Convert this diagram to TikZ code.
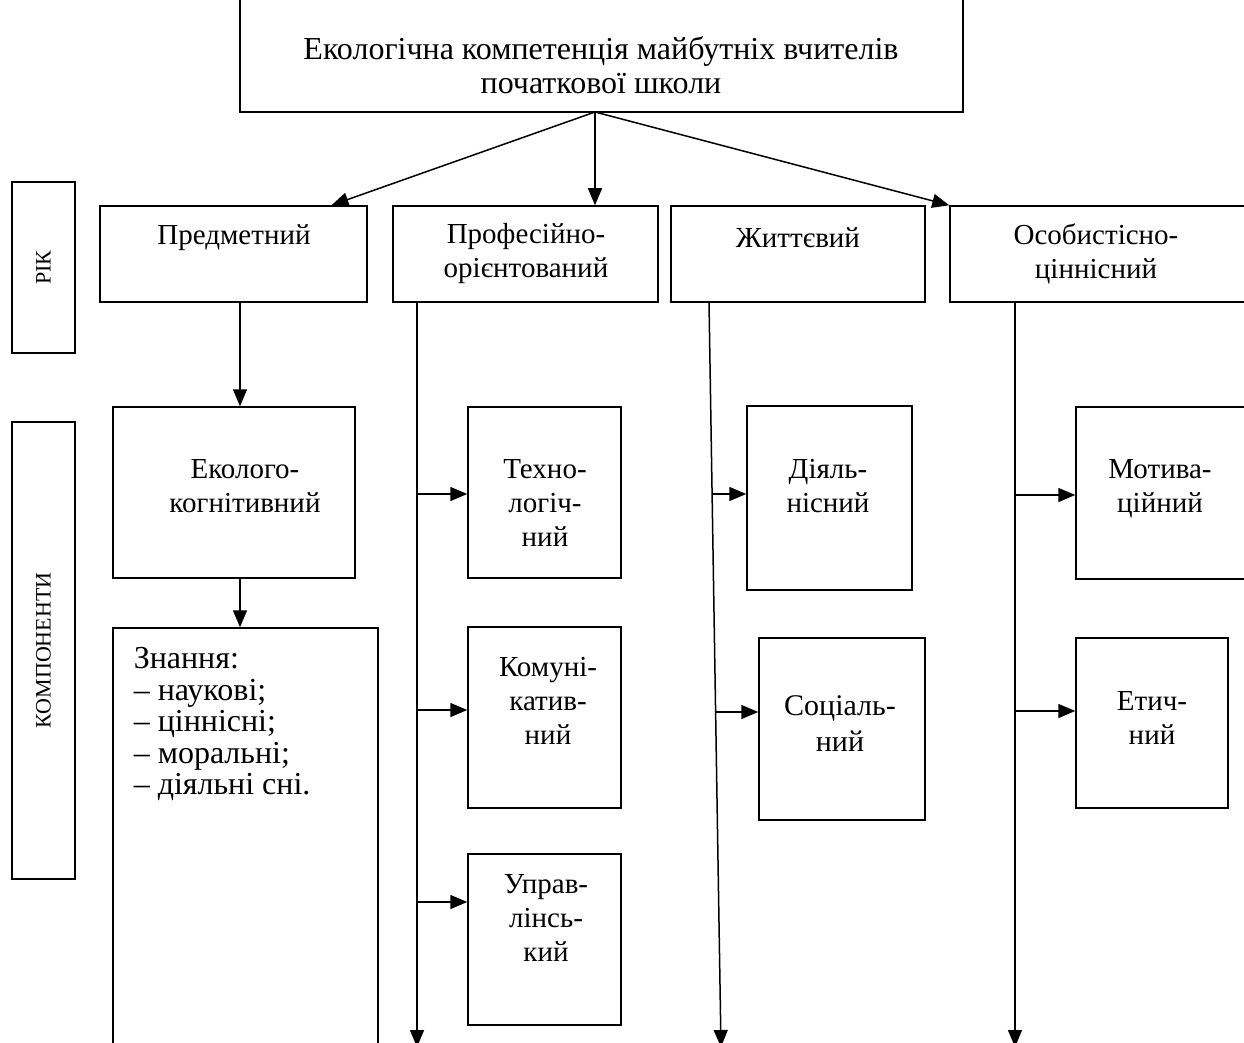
\documentclass[tikz,border=0pt]{standalone}
\usepackage{fontspec}
\setmainfont{Liberation Serif}
\usetikzlibrary{arrows.meta}

\begin{document}
\begin{tikzpicture}[x=1pt,y=-1pt,line width=1.5pt,>={Triangle[length=17pt,width=14pt]},
  box/.style 2 args={draw,inner sep=0pt,minimum width=#1,minimum height=#2},
  txt/.style={align=center,inner sep=0pt,font=\fontsize{29}{34}\selectfont},
  side/.style={rotate=90,inner sep=0pt,font=\fontsize{22}{26}\selectfont}]

\useasboundingbox (0,0) rectangle (1244,1043);

\node[box={723}{115}] (Top)   at (601.5,54.5) {};
\node[box={63}{171}]  (Rik)   at (43.5,267.5) {};
\node[box={63}{457}]  (Komp)  at (43.5,650.5) {};

\node[box={267}{96}]  (Pred)  at (233.5,254) {};
\node[box={265}{96}]  (Prof)  at (525.5,254) {};
\node[box={254}{96}]  (Zhytt) at (798,254)   {};
\node[box={320}{96}]  (Osob)  at (1110,254)  {};

\node[box={242}{171}] (Ekog)  at (234,492.5)   {};
\node[box={265}{472}] (Znan)  at (245.5,864)   {};
\node[box={153}{171}] (Tekh)  at (544.5,492.5) {};
\node[box={153}{181}] (Komu)  at (544.5,717.5) {};
\node[box={153}{171}] (Upr)   at (544.5,939.5) {};
\node[box={165}{184}] (Diyal) at (829.5,498)   {};
\node[box={166}{182}] (Sots)  at (842,729)     {};
\node[box={224}{172}] (Motyv) at (1188,493)    {};
\node[box={152}{170}] (Etych) at (1152,723)    {};

\node[txt,font=\fontsize{32}{34}\selectfont] (TopT) at (601,65)
  {Екологічна компетенція майбутніх вчителів\\початкової школи};
\node[side] (RikT)  at (Rik)      {РІК};
\node[side] (KompT) at (Komp)     {КОМПОНЕНТИ};
\node[txt] (PredT)  at (234,238)  {Предметний};
\node[txt] (ProfT)  at (526,254)  {Професійно-\\орієнтований};
\node[txt] (ZhyttT) at (798,238)  {Життєвий};
\node[txt] (OsobT)  at (1096,254) {Особистісно-\\ціннісний};
\node[txt] (EkogT)  at (245,486)  {Еколого-\\когнітивний};
\node[txt] (TekhT)  at (545,503)  {Техно-\\логіч-\\ний};
\node[txt] (KomuT)  at (548,701)  {Комуні-\\катив-\\ний};
\node[txt] (UprT)   at (546,918)  {Управ-\\лінсь-\\кий};
\node[txt] (DiyalT) at (828,486)  {Діяль-\\нісний};
\node[txt,font=\fontsize{30}{36}\selectfont] (SotsT) at (840,724) {Соціаль-\\ний};
\node[txt] (MotyvT) at (1160,489) {Мотива-\\ційний};
\node[txt] (EtychT) at (1152,718) {Етич-\\ний};
\node[txt,align=left,anchor=west,font=\fontsize{32}{31.5}\selectfont] (ZnanT) at (133,724)
  {Знання:\\– наукові;\\– ціннісні;\\– моральні;\\– діяльні сні.};

\coordinate (src) at (595,112);
\coordinate (c1) at (240,0);
\coordinate (P0) at (417,302);
\coordinate (P1) at (417,1047);
\coordinate (pb1) at (417,494);
\coordinate (pb2) at (417,710);
\coordinate (pb3) at (417,902);
\coordinate (L0) at (709,302);
\coordinate (L1) at (721,1047);
\coordinate (lb1) at (712,494);
\coordinate (lb2) at (716,712);
\coordinate (O0) at (1015,302);
\coordinate (O1) at (1015,1047);
\coordinate (ob1) at (1015,495);
\coordinate (ob2) at (1015,711);

\path[->]
  (src) edge ([xshift=98pt]Pred.north)
  (src) edge (src |- Prof.north)
  (src) edge (Osob.north west);

\path[->]
  (Pred.south -| c1) edge (Ekog.north -| c1)
  (Ekog.south -| c1) edge (Znan.north -| c1);

\path[->]
  (P0) edge (P1)
  (pb1) edge (pb1 -| Tekh.west)
  (pb2) edge (pb2 -| Komu.west)
  (pb3) edge (pb3 -| Upr.west);

\path[->]
  (L0) edge (L1)
  (lb1) edge (lb1 -| Diyal.west)
  (lb2) edge (lb2 -| Sots.west);

\path[->]
  (O0) edge (O1)
  (ob1) edge (ob1 -| Motyv.west)
  (ob2) edge (ob2 -| Etych.west);

\end{tikzpicture}
\end{document}
